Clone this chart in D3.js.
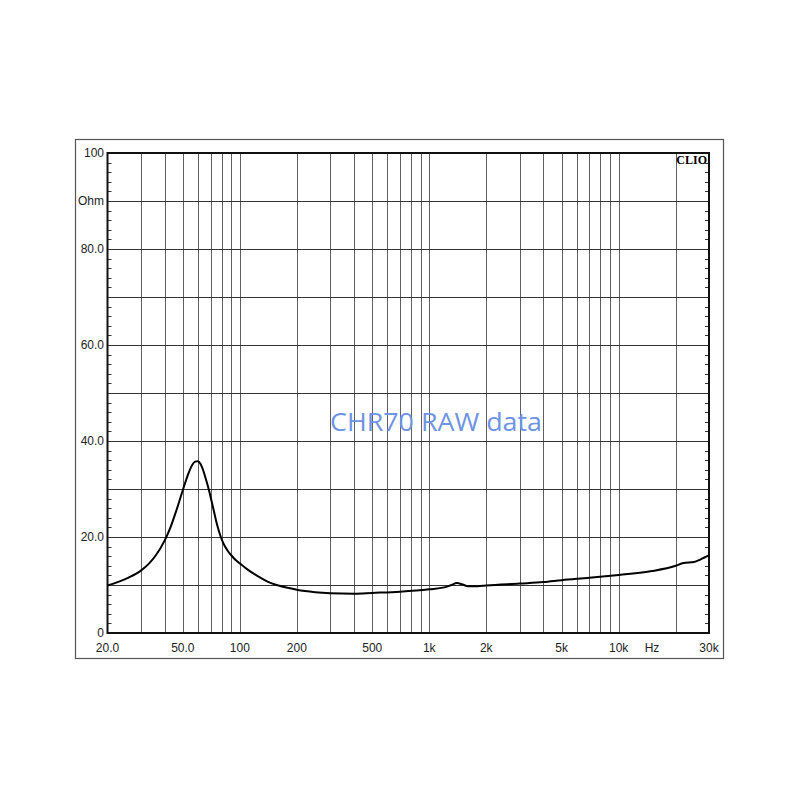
<!DOCTYPE html>
<html>
<head>
<meta charset="utf-8">
<script src="https://cdn.jsdelivr.net/npm/d3@7"></script>
<style>
  body { margin: 0; background: #fff; }
  svg text { font-family: "Liberation Sans", Arial, sans-serif; }
</style>
</head>
<body>
<script>
var width = 800;
var height = 800;

// impedance curve (Hz, Ohm)
var freqs = [20, 23, 26, 30, 33, 36, 40, 43, 46, 50, 53, 56, 58, 60, 62, 64, 66, 68, 70, 73,
  76, 79, 82, 86, 90, 95, 100, 110, 120, 130, 140, 160, 180, 200, 250, 300, 400, 500, 700,
  1000, 1200, 1300, 1400, 1500, 1600, 1800, 2000, 3000, 4000, 5000, 7000, 10000, 15000,
  20000, 22000, 25000, 27000, 30000];
var ohms = [9.9, 10.7, 11.6, 13.0, 14.4, 16.2, 19.2, 22.0, 25.3, 29.8, 32.8, 35.0, 35.7, 35.8, 35.2, 33.9, 32.2, 30.4, 28.4, 25.3,
  22.4, 20.2, 18.6, 17.2, 16.2, 15.2, 14.5, 13.2, 12.2, 11.4, 10.7, 9.9, 9.4, 9.0, 8.5, 8.3, 8.2, 8.35, 8.6,
  9.1, 9.5, 9.95, 10.4, 10.1, 9.75, 9.75, 9.9, 10.3, 10.6, 11.0, 11.5, 12.1, 12.9,
  14.0, 14.6, 14.8, 15.3, 16.2];

// axis labels
var xTickValues = [20, 50, 100, 200, 500, 1000, 2000, 5000, 10000, 30000];
var xTickLabels = ['20.0', '50.0', '100', '200', '500', '1k', '2k', '5k', '10k', '30k'];
var yTickValues = [100, 90, 80, 60, 40, 20, 0];
var yTickLabels = ['100', 'Ohm', '80.0', '60.0', '40.0', '20.0', '0'];

var margin = { left: 107.5, right: 709, top: 153, bottom: 633 };

var x = d3.scaleLog().domain([20, 30000]).range([margin.left, margin.right]);
var y = d3.scaleLinear().domain([0, 100]).range([margin.bottom, margin.top]);

var svg = d3.select('body')
  .append('svg')
  .attr('width', width)
  .attr('height', height);

// outer frame
svg.append('rect')
  .attr('x', 75.5).attr('y', 139.5)
  .attr('width', 648).attr('height', 519)
  .attr('fill', 'none')
  .attr('stroke', '#555')
  .attr('stroke-width', 1.2);

// vertical grid (1..9 per decade)
var vGrid = [];
for (var dec = 10; dec <= 10000; dec *= 10) {
  for (var m = 1; m <= 9; m++) {
    var f = dec * m;
    if (f > 20 && f < 30000) vGrid.push(f);
  }
}
vGrid.push(20000);

svg.append('g')
  .selectAll('line')
  .data(vGrid)
  .enter()
  .append('line')
  .attr('x1', function(d) { return Math.round(x(d)) + 0.5; })
  .attr('x2', function(d) { return Math.round(x(d)) + 0.5; })
  .attr('y1', margin.top)
  .attr('y2', margin.bottom)
  .attr('stroke', '#606060')
  .attr('stroke-width', 1);

// horizontal grid every 10 Ohm
svg.append('g')
  .selectAll('line')
  .data(d3.range(10, 100, 10))
  .enter()
  .append('line')
  .attr('x1', margin.left)
  .attr('x2', margin.right)
  .attr('y1', function(d) { return Math.round(y(d)) + 0.5; })
  .attr('y2', function(d) { return Math.round(y(d)) + 0.5; })
  .attr('stroke', '#333')
  .attr('stroke-width', 1);

// minor ticks every 2 Ohm, both sides
var minor = d3.range(2, 100, 2).filter(function(d) { return d % 10 != 0; });
var ticks = svg.append('g');
ticks.selectAll('.tl')
  .data(minor)
  .enter()
  .append('line')
  .attr('x1', margin.left)
  .attr('x2', margin.left + 4)
  .attr('y1', function(d) { return Math.round(y(d)) + 0.5; })
  .attr('y2', function(d) { return Math.round(y(d)) + 0.5; })
  .attr('stroke', '#333');
ticks.selectAll('.tr')
  .data(minor)
  .enter()
  .append('line')
  .attr('x1', margin.right - 4)
  .attr('x2', margin.right)
  .attr('y1', function(d) { return Math.round(y(d)) + 0.5; })
  .attr('y2', function(d) { return Math.round(y(d)) + 0.5; })
  .attr('stroke', '#333');

// plot border
svg.append('rect')
  .attr('x', margin.left).attr('y', margin.top)
  .attr('width', margin.right - margin.left)
  .attr('height', margin.bottom - margin.top)
  .attr('fill', 'none')
  .attr('stroke', '#111')
  .attr('stroke-width', 2);

// title
svg.append('text')
  .attr('x', 330)
  .attr('y', 431)
  .attr('textLength', 212)
  .attr('lengthAdjust', 'spacingAndGlyphs')
  .style('font-family', '"Open Sans", sans-serif')
  .style('font-size', '26px')
  .attr('fill', '#6f93e3')
  .text('CHR70 RAW data');

// impedance line
var line = d3.line()
  .x(function(d, i) { return x(freqs[i]); })
  .y(function(d) { return y(d); })
  .curve(d3.curveMonotoneX);

svg.append('path')
  .datum(ohms)
  .attr('d', line)
  .attr('fill', 'none')
  .attr('stroke', '#000')
  .attr('stroke-width', 2);

// y labels
svg.append('g')
  .selectAll('text')
  .data(yTickValues)
  .enter()
  .append('text')
  .attr('x', 104)
  .attr('y', function(d) { return y(d) + 4; })
  .attr('text-anchor', 'end')
  .style('font-size', '12px')
  .attr('fill', '#222')
  .text(function(d, i) { return yTickLabels[i]; });

// x labels
svg.append('g')
  .selectAll('text')
  .data(xTickValues)
  .enter()
  .append('text')
  .attr('x', function(d) { return x(d); })
  .attr('y', 652)
  .attr('text-anchor', 'middle')
  .style('font-size', '12px')
  .attr('fill', '#222')
  .text(function(d, i) { return xTickLabels[i]; });

svg.append('text')
  .attr('x', x(15000))
  .attr('y', 652)
  .attr('text-anchor', 'middle')
  .style('font-size', '12px')
  .attr('fill', '#222')
  .text('Hz');

// CLIO mark
svg.append('text')
  .attr('x', 707)
  .attr('y', 164)
  .attr('text-anchor', 'end')
  .style('font-family', '"Liberation Serif", serif')
  .style('font-weight', 'bold')
  .style('font-size', '12px')
  .attr('fill', '#000')
  .text('CLIO');
</script>
</body>
</html>
